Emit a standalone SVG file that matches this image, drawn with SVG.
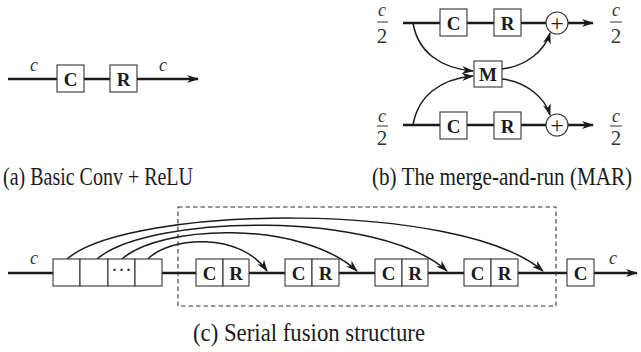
<svg xmlns="http://www.w3.org/2000/svg" width="641" height="352" viewBox="0 0 641 352">
<style>
.bg{fill:#fff}
.main{stroke:#1a1a1a;stroke-width:2.4;fill:none}
.curve{stroke:#1a1a1a;stroke-width:1.5;fill:none}
.box{fill:#fff;stroke:#333;stroke-width:1.1}
.dash{fill:none;stroke:#333;stroke-width:1.1;stroke-dasharray:4.5,3}
.lbl{font-family:"Liberation Serif",serif;font-weight:bold;font-size:19px;fill:#1a1a1a;text-anchor:middle}
.var{font-family:"Liberation Serif",serif;font-style:italic;font-size:18px;fill:#333;text-anchor:middle}
.num{font-family:"Liberation Serif",serif;font-size:21px;fill:#333;text-anchor:middle}
.plus{font-family:"Liberation Serif",serif;font-size:24px;fill:#1a1a1a;text-anchor:middle}
.cap{font-family:"Liberation Serif",serif;font-size:25px;fill:#1a1a1a}
.bar{stroke:#333;stroke-width:1}
</style>
<defs>
<marker id="ah" viewBox="0 0 12 8" refX="11" refY="4" markerWidth="12" markerHeight="8" markerUnits="userSpaceOnUse" orient="auto">
<path d="M0,0 L12,4 L0,8 L3.5,4 z" fill="#1a1a1a"/>
</marker>
</defs>
<rect class="bg" x="0" y="0" width="641" height="352"/>

<g id="connectors">
<path class="main" d="M8,79 L198,79" marker-end="url(#ah)"/>
<path class="main" d="M403,23 L593,23" marker-end="url(#ah)"/>
<path class="main" d="M403,125 L593,125" marker-end="url(#ah)"/>
<path class="curve" d="M413,23 C418,52 440,68 473,71" marker-end="url(#ah)"/>
<path class="curve" d="M413,125 C418,96 440,79 473,76" marker-end="url(#ah)"/>
<path class="curve" d="M502,69 C527,66 545,50 550,33" marker-end="url(#ah)"/>
<path class="curve" d="M502,79 C527,82 545,98 550,115" marker-end="url(#ah)"/>
<path class="main" d="M8,273 L637,273" marker-end="url(#ah)"/>
<path class="curve" d="M148,259 C170,236 240,232 267,271" marker-end="url(#ah)"/>
<path class="curve" d="M122,259 C160,225 300,219 357,271" marker-end="url(#ah)"/>
<path class="curve" d="M97,259 C150,214 380,210 447,271" marker-end="url(#ah)"/>
<path class="curve" d="M67,259 C130,205 460,200 543,271" marker-end="url(#ah)"/>
</g>

<!-- (a) -->
<g id="a-c-in"><text class="var" x="34" y="71" textLength="8" lengthAdjust="spacingAndGlyphs">c</text></g>
<g id="a-conv"><rect class="box" x="57" y="65" width="27" height="27"/><text class="lbl" x="70.5" y="85.5">C</text></g>
<g id="a-relu"><rect class="box" x="110" y="65" width="27" height="27"/><text class="lbl" x="123.5" y="85.5">R</text></g>
<g id="a-c-out"><text class="var" x="163" y="71" textLength="8" lengthAdjust="spacingAndGlyphs">c</text></g>
<text class="cap" x="3" y="185" textLength="190" lengthAdjust="spacingAndGlyphs">(a) Basic Conv + ReLU</text>

<!-- (b) -->
<g id="b-frac-tl"><text class="var" x="382" y="16">c</text><line class="bar" x1="377" y1="22" x2="388" y2="22"/><text class="num" x="382" y="43">2</text></g>
<g id="b-frac-bl"><text class="var" x="382" y="122">c</text><line class="bar" x1="377" y1="126" x2="388" y2="126"/><text class="num" x="382" y="145">2</text></g>
<g id="b-frac-tr"><text class="var" x="616" y="16">c</text><line class="bar" x1="610" y1="22" x2="622" y2="22"/><text class="num" x="616" y="43">2</text></g>
<g id="b-frac-br"><text class="var" x="616" y="122">c</text><line class="bar" x1="610" y1="126" x2="622" y2="126"/><text class="num" x="616" y="145">2</text></g>
<g id="b-conv-top"><rect class="box" x="440" y="9" width="27" height="27"/><text class="lbl" x="453.5" y="29.5">C</text></g>
<g id="b-relu-top"><rect class="box" x="494" y="9" width="27" height="27"/><text class="lbl" x="507.5" y="29.5">R</text></g>
<g id="b-sum-top"><circle class="box" cx="557" cy="23" r="11"/><text class="plus" x="557" y="31">+</text></g>
<g id="b-merge"><rect class="box" x="474" y="61" width="28" height="26"/><text class="lbl" x="488" y="81">M</text></g>
<g id="b-conv-bot"><rect class="box" x="440" y="112" width="27" height="27"/><text class="lbl" x="453.5" y="132.5">C</text></g>
<g id="b-relu-bot"><rect class="box" x="494" y="112" width="27" height="27"/><text class="lbl" x="507.5" y="132.5">R</text></g>
<g id="b-sum-bot"><circle class="box" cx="557" cy="125" r="11"/><text class="plus" x="557" y="133">+</text></g>
<text class="cap" transform="translate(372,185) scale(0.845,1)" x="0" y="0">(b) The merge-and-run (MAR)</text>

<!-- (c) -->
<g id="c-group"><rect class="dash" x="178" y="207" width="378" height="99"/></g>
<g id="c-c-in"><text class="var" x="34" y="264" textLength="8" lengthAdjust="spacingAndGlyphs">c</text></g>
<g id="c-mem1"><rect class="box" x="53" y="259" width="27" height="27"/></g>
<g id="c-mem2"><rect class="box" x="80" y="259" width="28" height="27"/></g>
<g id="c-mem3"><rect class="box" x="108" y="259" width="27" height="27"/><text class="num" x="121.5" y="277" font-size="15">···</text></g>
<g id="c-mem4"><rect class="box" x="135" y="259" width="27" height="27"/></g>
<g id="c-cr1"><rect class="box" x="196" y="259" width="27" height="27"/><text class="lbl" x="209.5" y="279.5">C</text><rect class="box" x="223" y="259" width="26" height="27"/><text class="lbl" x="236" y="279.5">R</text></g>
<g id="c-cr2"><rect class="box" x="285" y="259" width="27" height="27"/><text class="lbl" x="298.5" y="279.5">C</text><rect class="box" x="312" y="259" width="27" height="27"/><text class="lbl" x="325.5" y="279.5">R</text></g>
<g id="c-cr3"><rect class="box" x="375" y="259" width="27" height="27"/><text class="lbl" x="388.5" y="279.5">C</text><rect class="box" x="402" y="259" width="26" height="27"/><text class="lbl" x="415" y="279.5">R</text></g>
<g id="c-cr4"><rect class="box" x="464" y="259" width="27" height="27"/><text class="lbl" x="477.5" y="279.5">C</text><rect class="box" x="491" y="259" width="27" height="27"/><text class="lbl" x="504.5" y="279.5">R</text></g>
<g id="c-conv-out"><rect class="box" x="567" y="259" width="27" height="27"/><text class="lbl" x="580.5" y="279.5">C</text></g>
<g id="c-c-out"><text class="var" x="613" y="264" textLength="8" lengthAdjust="spacingAndGlyphs">c</text></g>
<text class="cap" x="193" y="341" textLength="232" lengthAdjust="spacingAndGlyphs">(c) Serial fusion structure</text>
</svg>
